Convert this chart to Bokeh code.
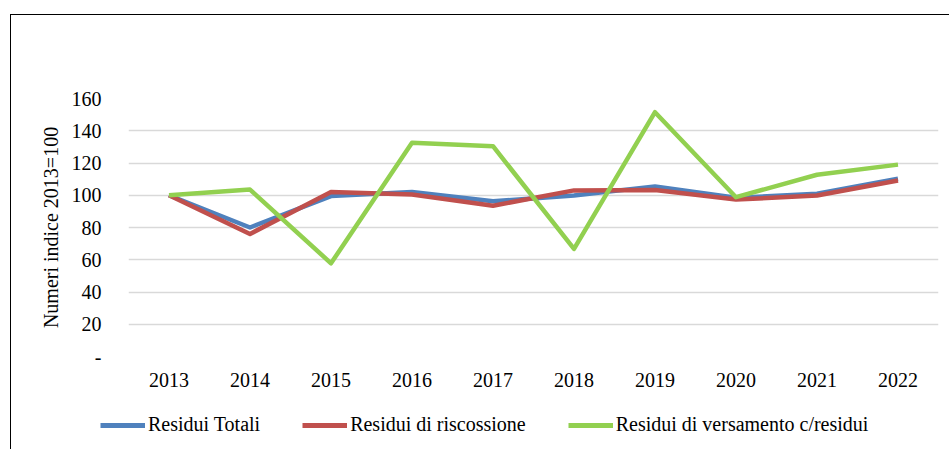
from bokeh.plotting import figure
from bokeh.models import Legend, LegendItem, FactorRange, Range1d
from bokeh.layouts import column
from bokeh.embed import file_html
from bokeh.resources import INLINE

years = ["2013", "2014", "2015", "2016", "2017", "2018", "2019", "2020", "2021", "2022"]
residui_totali = [100, 80, 99.5, 102, 96.3, 99.8, 105.5, 98.4, 101, 110.2]
residui_riscossione = [100, 76, 102, 100.5, 93.5, 103, 103.3, 97.3, 99.8, 109.1]
residui_versamento = [100, 103.5, 57.8, 132.5, 130.4, 66.7, 151.5, 98.8, 112.7, 119]
y_ticks = [0, 20, 40, 60, 80, 100, 120, 140, 160]
y_tick_labels = {0: "-", 20: "20", 40: "40", 60: "60", 80: "80", 100: "100", 120: "120", 140: "140", 160: "160"}

series_names = ["Residui Totali", "Residui di riscossione", "Residui di versamento c/residui"]
colors = ["#4F81BD", "#C0504D", "#92D050"]
series = [residui_totali, residui_riscossione, residui_versamento]

FONT = "Liberation Serif"
FS = "20px"

W = 938
H_MAIN = 390
H_LEG = 44

p = figure(
    x_range=FactorRange(*years, range_padding=0),
    y_range=Range1d(0, 160),
    width=W, height=H_MAIN,
    output_backend="svg", toolbar_location=None,
    min_border_left=117, min_border_right=11, min_border_top=83, min_border_bottom=49,
)
p.outline_line_color = None
p.background_fill_color = "white"
p.border_fill_color = "white"

p.xgrid.grid_line_color = None
p.ygrid.grid_line_color = "#D9D9D9"
p.ygrid.grid_line_width = 1.5

p.yaxis.ticker = y_ticks
p.yaxis.major_label_overrides = y_tick_labels
for ax in (p.xaxis[0], p.yaxis[0]):
    ax.axis_line_color = None
    ax.major_tick_line_color = None
    ax.minor_tick_line_color = None
    ax.major_label_text_font = FONT
    ax.major_label_text_font_size = FS
    ax.major_label_text_color = "black"
p.yaxis.major_label_standoff = 21
p.xaxis.major_label_standoff = 10
p.yaxis.axis_label = "Numeri indice 2013=100"
p.yaxis.axis_label_text_font = FONT
p.yaxis.axis_label_text_font_size = FS
p.yaxis.axis_label_text_font_style = "normal"
p.yaxis.axis_label_text_color = "black"
p.yaxis.axis_label_standoff = 7

for vals, c in zip(series, colors):
    p.line(years, vals, line_color=c, line_width=4.5, line_join="round")

# legend strip: same series drawn in a small figure whose y range hides the lines
pl = figure(
    x_range=FactorRange(*years, range_padding=0),
    y_range=Range1d(1000, 1001),
    width=W, height=H_LEG,
    output_backend="svg", toolbar_location=None,
    min_border=0, min_border_left=0, min_border_right=0, min_border_top=0, min_border_bottom=0,
)
pl.axis.visible = False
pl.grid.visible = False
pl.outline_line_color = None
leg_renderers = []
for vals, c in zip(series, colors):
    leg_renderers.append(pl.line(years, vals, line_color=c, line_width=5))

legend = Legend(
    items=[LegendItem(label=n, renderers=[r]) for n, r in zip(series_names, leg_renderers)],
    orientation="horizontal",
    location=(89, 13),
    glyph_width=45, glyph_height=20, label_height=20,
    label_standoff=3, spacing=42, padding=0, margin=0,
    border_line_color=None, background_fill_alpha=0,
    label_text_font=FONT, label_text_font_size=FS, label_text_color="black",
)
pl.add_layout(legend, "center")

layout = column(p, column(pl, spacing=0), spacing=0,
                styles={"margin-left": "10px", "margin-top": "14px",
                        "border-left": "1px solid black", "border-top": "1px solid black"})

open("out.html", "w").write(file_html(layout, INLINE))
